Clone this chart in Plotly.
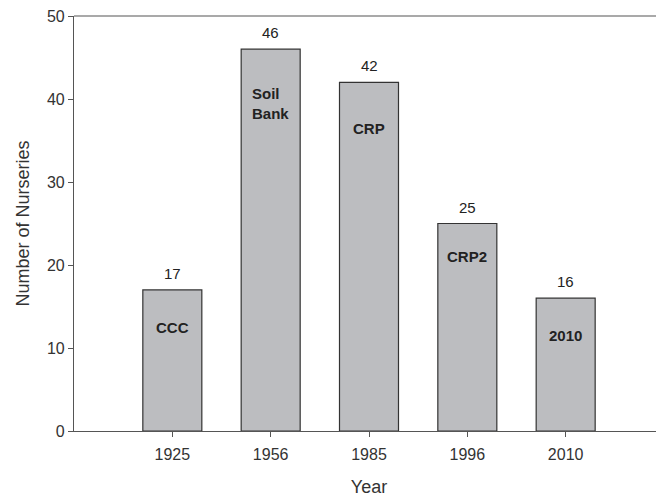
import plotly.graph_objects as go

years = ["1925", "1956", "1985", "1996", "2010"]
nurseries = [17, 46, 42, 25, 16]
programs = ["CCC", "Soil<br>Bank", "CRP", "CRP2", "2010"]
program_y = [12.5, 39.5, 36.5, 21, 11.5]

FONT = "Arial, Liberation Sans, sans-serif"
pos = list(range(len(years)))

fig = go.Figure()
fig.add_trace(go.Bar(
    x=pos, y=nurseries, width=0.6,
    marker=dict(color="#bcbdc0", line=dict(color="#333333", width=1.2)),
    showlegend=False,
))

# value labels above the bars
for p, v in zip(pos, nurseries):
    fig.add_annotation(x=p, y=v, text=str(v), showarrow=False,
                       yanchor="bottom", yshift=6,
                       font=dict(family=FONT, size=15, color="#222222"))

# program names inside the bars
for p, name, py in zip(pos, programs, program_y):
    fig.add_annotation(x=p, y=py, text="<b>" + name + "</b>", showarrow=False,
                       align="left",
                       font=dict(family=FONT, size=15, color="#222222"))

fig.update_xaxes(
    range=[-1, 5], tickvals=pos, ticktext=years,
    showline=True, linecolor="#555555", linewidth=1.2,
    ticks="outside", ticklen=5, tickcolor="#555555",
    tickfont=dict(family=FONT, size=16, color="#333333"),
    ticklabelstandoff=4,
    title=dict(text="Year", font=dict(family=FONT, size=18, color="#333333"), standoff=18),
    showgrid=False, zeroline=False, automargin=False,
)
fig.update_yaxes(
    range=[0, 50], dtick=10,
    showline=True, linecolor="#555555", linewidth=1.2,
    ticks="outside", ticklen=5, tickcolor="#555555",
    tickfont=dict(family=FONT, size=16, color="#333333"),
    ticklabeloverflow="allow",
    title=dict(text="Number of Nurseries", font=dict(family=FONT, size=18, color="#333333"), standoff=12),
    showgrid=False, zeroline=False, automargin=False,
)

# top frame line
fig.add_shape(type="line", xref="paper", yref="paper", x0=0, x1=1, y0=1, y1=1,
              line=dict(color="#555555", width=1.2))

# page body adds an 8px margin, so the figure is sized to fit inside the window
fig.update_layout(
    width=656, height=492,
    margin=dict(l=66, r=0, t=8, b=69),
    plot_bgcolor="white", paper_bgcolor="white",
)

fig.write_html("out.html")
